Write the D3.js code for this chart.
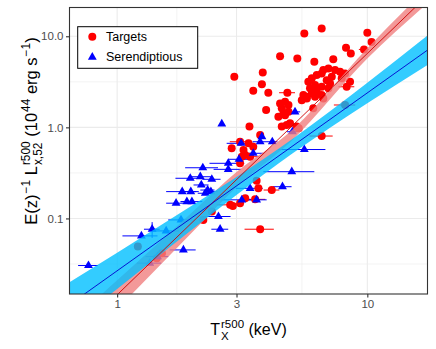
<!DOCTYPE html>
<html>
<head>
<meta charset="utf-8">
<script src="https://cdn.jsdelivr.net/npm/d3@7"></script>
<style>
  body { margin: 0; background: #fff; }
  svg { display: block; font-family: "Liberation Sans", Arial, sans-serif; }
  .title text { white-space: pre; }
</style>
</head>
<body>
<svg id="chart" width="436" height="349"></svg>
<script>
// Targets (red circles): temperature (keV), luminosity (1e44 erg/s), T error (keV)
const targetT = [6.57, 5.60, 10.0, 10.4, 8.22, 8.59, 9.70, 4.48, 5.25, 6.14,
  7.31, 2.94, 3.82, 3.79, 3.50, 4.02, 3.94, 3.38, 4.79, 6.99,
  6.67, 7.43, 7.78, 8.15, 6.28, 7.21, 7.90, 8.53, 6.00, 5.81,
  6.18, 6.57, 7.10, 8.27, 5.90, 6.28, 6.57, 6.99, 5.55, 5.73,
  5.47, 4.69, 4.48, 4.84, 4.55, 4.62, 4.41, 4.69, 4.76, 5.22,
  4.55, 6.57, 8.15, 6.08, 6.67, 6.00, 4.84, 3.73, 4.91, 3.10,
  2.87, 3.35, 3.20, 3.50, 3.15, 3.40, 3.10, 3.61, 3.67, 4.15,
  3.25, 3.10, 2.83, 2.90, 3.56, 2.39, 2.21, 3.73, 1.21, 1.44,
  1.51, 5.32, 6.57, 6.88, 6.08, 5.73, 6.18, 3.25];
const targetL = [12.2, 10.7, 10.9, 8.68, 7.46, 6.48, 7.17, 6.05, 5.71, 5.24,
  5.61, 3.59, 4.01, 2.98, 2.52, 2.40, 1.55, 1.02, 2.40, 4.44,
  4.25, 4.25, 4.07, 3.91, 3.75, 3.59, 3.45, 3.16, 3.45, 3.16,
  2.91, 2.79, 3.04, 2.79, 2.68, 2.46, 2.26, 2.68, 2.26, 2.08,
  1.99, 1.91, 1.83, 1.76, 1.62, 1.42, 1.31, 1.36, 1.06, 1.02,
  1.02, 0.803, 1.76, 1.62, 2.08, 2.36, 1.48, 0.823, 1.11, 0.695,
  0.589, 0.668, 0.564, 0.613, 0.476, 0.476, 0.403, 0.260, 0.214, 0.205,
  0.167, 0.147, 0.141, 0.137, 0.162, 0.119, 0.0963, 0.0761, 0.0491, 0.0366,
  0.0415, 0.975, 3.91, 3.30, 2.56, 2.17, 2.17, 0.497];
const targetDT = [0, 0, 0, 0, 0, 0, 0.45, 0, 0, 0,
  0, 0, 0, 0, 0, 0, 0, 0, 0.35, 0,
  0, 0, 0, 0, 0, 0, 0, 0, 0, 0,
  0, 0, 0, 0.6, 0, 0, 0, 0, 0, 0,
  0, 0, 0, 0, 0, 0, 0, 0, 0.35, 0,
  0, 0.7, 0.8, 0, 0, 0, 0, 0, 0, 0.28,
  0, 0, 0, 0, 0, 0.3, 0, 0, 0, 0.3,
  0, 0, 0.33, 0, 0.35, 0, 0, 0.5, 0, 0,
  0, 0, 0, 0, 0, 0, 0, 0];

// Serendipitous (blue triangles)
const serendipT = [2.62, 5.14, 5.02, 3.13, 3.79, 3.73, 4.17, 5.60, 3.50, 2.78,
  3.07, 2.20, 2.78, 4.99, 1.96, 2.15, 2.39, 2.17, 2.30, 2.25,
  2.37, 1.82, 1.97, 3.40, 4.58, 1.72, 1.99, 1.90, 3.15, 3.61,
  2.54, 2.58, 1.38, 1.25, 1.84, 0.768, 1.57, 1.80, 1.45, 1.35];
const serendipL = [1.09, 1.48, 0.895, 0.668, 0.789, 0.695, 0.695, 0.571, 0.519, 0.403,
  0.446, 0.360, 0.346, 0.326, 0.276, 0.287, 0.269, 0.233, 0.205, 0.189,
  0.197, 0.197, 0.197, 0.214, 0.223, 0.147, 0.153, 0.153, 0.160, 0.160,
  0.105, 0.0761, 0.0761, 0.0643, 0.0451, 0.0304, 0.0729, 0.0963, 0.0381, 0.0323];
const serendipDT = [0, 0.25, 0.25, 0.39, 0, 0.25, 0.2, 1.2, 0.35, 0.44,
  0.3, 0.33, 0.35, 1.15, 0.25, 0.22, 0.2, 0.15, 0.15, 0.15,
  0.15, 0.25, 0.15, 0.42, 0.4, 0.15, 0.2, 0.1, 0.55, 0.35,
  0.3, 0.2, 0.1, 0.2, 0.22, 0.07, 0.2, 0.2, 0.15, 0.15];
const serendipDL = [0, 0, 0, 0, 0, 0, 0, 0, 0, 0,
  0, 0, 0, 0, 0, 0, 0, 0, 0, 0,
  0, 0, 0, 0, 0, 0, 0, 0, 0, 0,
  0, 0, 0.015, 0, 0, 0, 0, 0, 0, 0];

// Fitted relations and their confidence bands
const fitT = [0.645, 17.4];
const targetFit = [0.00454, 28.1];
const serendipFit = [0.0113, 7.05];
const bandT = [0.645, 1, 2, 3, 5, 10, 17.4];
const targetBandLo = [0.00292, 0.01007, 0.0708, 0.2203, 0.7194, 5.689, 23.07];
const targetBandHi = [0.00706, 0.02094, 0.1175, 0.3228, 0.9354, 7.396, 34.28];
const serendipBandLo = [0.00643, 0.01683, 0.0762, 0.1811, 0.5129, 1.845, 4.853];
const serendipBandHi = [0.01986, 0.0421, 0.1393, 0.2858, 0.7413, 3.090, 10.23];

// Axes
const xDomain = [0.645, 17.4];
const yDomain = [0.0148, 20.7];
const xTicks = [1, 3, 10];
const xTickLabels = ["1", "3", "10"];
const xMinor = [1.732, 5.477];
const yTicks = [0.1, 1, 10];
const yTickLabels = ["0.1", "1.0", "10.0"];
const yMinor = [0.0316, 0.316, 3.162];
const legendLabels = ["Targets", "Serendiptious"];

const margin = { top: 7.5, left: 69.5 };
const width = 358, height = 286.5;

const svg = d3.select("#chart");

const x = d3.scaleLog().domain(xDomain).range([margin.left, margin.left + width]);
const y = d3.scaleLog().domain(yDomain).range([margin.top + height, margin.top]);

// Clip for the panel
svg.append("defs").append("clipPath").attr("id", "panel")
  .append("rect")
  .attr("x", margin.left).attr("y", margin.top)
  .attr("width", width).attr("height", height);

// Grid
const grid = svg.append("g");
grid.selectAll(".xminor").data(xMinor).join("line")
  .attr("x1", d => x(d)).attr("x2", d => x(d))
  .attr("y1", margin.top).attr("y2", margin.top + height)
  .attr("stroke", "#ebebeb").attr("stroke-width", 0.6);
grid.selectAll(".yminor").data(yMinor).join("line")
  .attr("y1", d => y(d)).attr("y2", d => y(d))
  .attr("x1", margin.left).attr("x2", margin.left + width)
  .attr("stroke", "#ebebeb").attr("stroke-width", 0.6);
grid.selectAll(".xmajor").data(xTicks).join("line")
  .attr("x1", d => x(d)).attr("x2", d => x(d))
  .attr("y1", margin.top).attr("y2", margin.top + height)
  .attr("stroke", "#ebebeb").attr("stroke-width", 1.1);
grid.selectAll(".ymajor").data(yTicks).join("line")
  .attr("y1", d => y(d)).attr("y2", d => y(d))
  .attr("x1", margin.left).attr("x2", margin.left + width)
  .attr("stroke", "#ebebeb").attr("stroke-width", 1.1);

const targets = targetT.map((t, i) => ({ t, l: targetL[i], dt: targetDT[i], dl: 0 }));
const serendips = serendipT.map((t, i) => ({ t, l: serendipL[i], dt: serendipDT[i], dl: serendipDL[i] }));

const plot = svg.append("g").attr("clip-path", "url(#panel)");

// Error bars
function errorBars(data, color) {
  plot.append("g").selectAll("line").data(data.filter(d => d.dt > 0)).join("line")
    .attr("x1", d => x(d.t - d.dt)).attr("x2", d => x(d.t + d.dt))
    .attr("y1", d => y(d.l)).attr("y2", d => y(d.l))
    .attr("stroke", color).attr("stroke-width", 1);
  plot.append("g").selectAll("line").data(data.filter(d => d.dl > 0)).join("line")
    .attr("x1", d => x(d.t)).attr("x2", d => x(d.t))
    .attr("y1", d => y(d.l - d.dl)).attr("y2", d => y(d.l + d.dl))
    .attr("stroke", color).attr("stroke-width", 1);
}
errorBars(targets, "#ff0000");
errorBars(serendips, "#0000ff");

// Points
plot.append("g").selectAll("circle").data(targets).join("circle")
  .attr("cx", d => x(d.t)).attr("cy", d => y(d.l)).attr("r", 4)
  .attr("fill", "#ff0000");
const tri = d3.symbol(d3.symbolTriangle, 34);
plot.append("g").selectAll("path").data(serendips).join("path")
  .attr("d", tri)
  .attr("transform", d => `translate(${x(d.t)},${y(d.l)})`)
  .attr("fill", "#0000ff");

// Confidence bands
function band(lo, hi, color) {
  const rows = bandT.map((t, i) => ({ t, lo: lo[i], hi: hi[i] }));
  const area = d3.area()
    .x(d => x(d.t)).y0(d => y(d.lo)).y1(d => y(d.hi))
    .curve(d3.curveMonotoneX);
  plot.append("path").datum(rows)
    .attr("d", area).attr("fill", color).attr("fill-opacity", 0.8);
}
band(targetBandLo, targetBandHi, "#f08080");
band(serendipBandLo, serendipBandHi, "#00bfff");

// Fit lines
function fitLine(vals, color) {
  const rows = fitT.map((t, i) => ({ t, l: vals[i] }));
  plot.append("path").datum(rows)
    .attr("d", d3.line().x(d => x(d.t)).y(d => y(d.l)))
    .attr("fill", "none").attr("stroke", color).attr("stroke-width", 0.9);
}
fitLine(targetFit, "#cd0000");
fitLine(serendipFit, "#0000cd");

// Panel border
svg.append("rect")
  .attr("x", margin.left).attr("y", margin.top)
  .attr("width", width).attr("height", height)
  .attr("fill", "none").attr("stroke", "#333333").attr("stroke-width", 1.1);

// Axes
const xAxis = svg.append("g")
  .attr("transform", `translate(0,${margin.top + height})`)
  .call(d3.axisBottom(x).tickValues(xTicks).tickFormat((d, i) => xTickLabels[i])
    .tickSize(3.5).tickSizeOuter(0).tickPadding(2.5));
const yAxis = svg.append("g")
  .attr("transform", `translate(${margin.left},0)`)
  .call(d3.axisLeft(y).tickValues(yTicks).tickFormat((d, i) => yTickLabels[i])
    .tickSize(3.5).tickSizeOuter(0).tickPadding(2.5));
[xAxis, yAxis].forEach(a => {
  a.select(".domain").remove();
  a.selectAll(".tick line").attr("stroke", "#333333").attr("stroke-width", 1.1);
  a.selectAll(".tick text").attr("fill", "#4d4d4d").attr("font-size", 11.5)
    .attr("font-family", "Liberation Sans, Arial, sans-serif");
});

// Axis titles with super/subscripts
function mathText(g, parts, size) {
  const small = size * 0.72;
  let pos = 0;
  parts.forEach(p => {
    const t = g.append("text").attr("x", pos).attr("y", 0)
      .attr("font-size", size).attr("fill", "#000").text(p.base);
    pos += t.node().getComputedTextLength();
    let w = 0;
    if (p.sup) {
      const s = g.append("text").attr("x", pos + 1).attr("y", -size * 0.45)
        .attr("font-size", small).text(p.sup);
      w = Math.max(w, s.node().getComputedTextLength() + 1);
    }
    if (p.sub) {
      const s = g.append("text").attr("x", pos + 1).attr("y", size * 0.32)
        .attr("font-size", small).text(p.sub);
      w = Math.max(w, s.node().getComputedTextLength() + 1);
    }
    pos += w;
  });
  return pos;
}

const xTitle = svg.append("g").attr("class", "title");
const xw = mathText(xTitle, [
  { base: "T", sup: "r500", sub: "X" },
  { base: " (keV)" }
], 16);
xTitle.attr("transform", `translate(${margin.left + width / 2 - xw / 2},335)`);

const yTitle = svg.append("g").attr("class", "title");
const yw = mathText(yTitle, [
  { base: "E(z)", sup: "\u22121" },
  { base: " L", sup: "r500", sub: "x,52" },
  { base: " (10", sup: "44" },
  { base: " erg s", sup: "\u22121" },
  { base: ")" }
], 16.5);
yTitle.attr("transform", `translate(37,${131 + yw / 2}) rotate(-90)`);

// Legend
const legend = svg.append("g");
legend.append("rect")
  .attr("x", 77.7).attr("y", 26.7).attr("width", 120).attr("height", 41.6)
  .attr("fill", "#fff").attr("stroke", "#000").attr("stroke-width", 1);
legend.append("circle").attr("cx", 92.3).attr("cy", 36.7).attr("r", 4).attr("fill", "#ff0000");
legend.append("path").attr("d", tri).attr("transform", "translate(92.3,57.2)").attr("fill", "#0000ff");
legend.selectAll("text").data(legendLabels).join("text")
  .attr("x", 106).attr("y", (d, i) => 41.2 + i * 20)
  .attr("font-size", 12.5).attr("fill", "#000").text(d => d);
</script>
</body>
</html>
